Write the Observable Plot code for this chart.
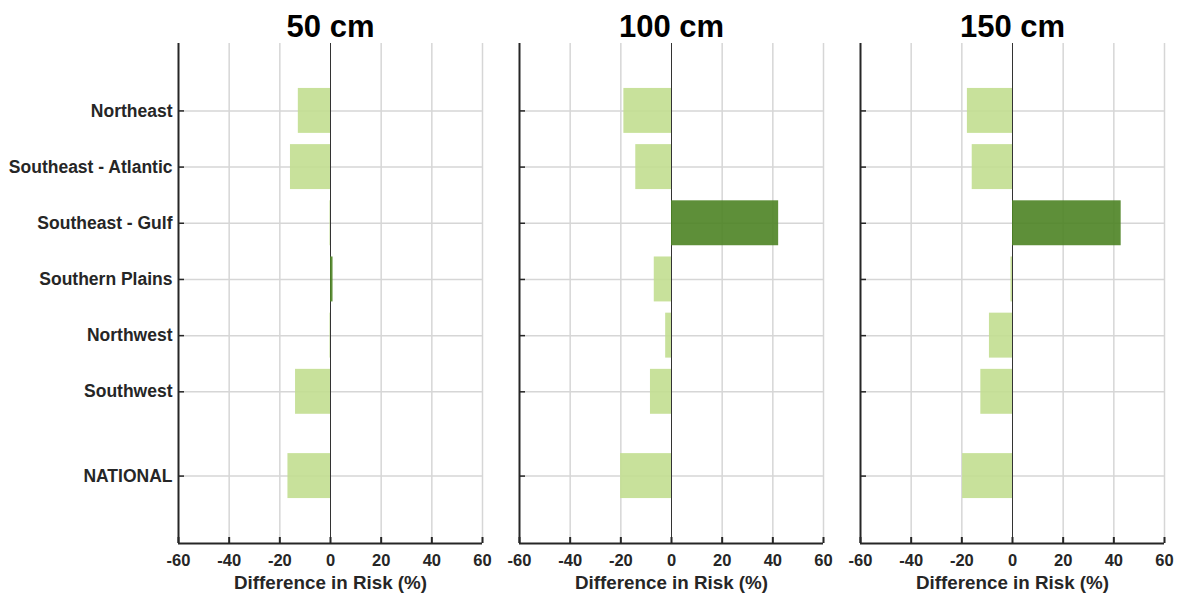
<!DOCTYPE html>
<html>
<head>
<meta charset="utf-8">
<script src="https://cdn.jsdelivr.net/npm/d3@7"></script>
<script src="https://cdn.jsdelivr.net/npm/@observablehq/plot@0.6"></script>
<style>
  html, body { margin: 0; padding: 0; background: #fff; }
</style>
</head>
<body>
<div id="chart"></div>
<script>
// ---- data ----
const regions = ["Northeast", "Southeast - Atlantic", "Southeast - Gulf", "Southern Plains", "Northwest", "Southwest", "NATIONAL"];
const scenarios = ["50 cm", "100 cm", "150 cm"];
const risk50  = [-12.7, -15.8, -0.2, 1.0, -0.2, -13.8, -16.8];
const risk100 = [-18.8, -14.1, 42.3, -6.8, -2.3, -8.3, -20.1];
const risk150 = [-17.8, -15.9, 42.9, -0.6, -9.1, -12.5, -19.7];
const xTicks = [-60, -40, -20, 0, 20, 40, 60];
const xLabel = "Difference in Risk (%)";

// ---- layout helpers ----
const series = [risk50, risk100, risk150];
// row slots; NATIONAL is set apart by an extra half slot
const slots = regions.map((r, i) => r === "NATIONAL" ? i + 1.5 : i + 1);
const xDomain = [-60, 60];
const yDomain = [-0.2, 8.7];
const halfBar = 0.4;

const data = scenarios.flatMap((s, j) =>
  regions.map((r, i) => ({scenario: s, region: r, slot: slots[i], value: series[j][i]}))
);

const ink = "#262626";
const grid = "#d6d6d6";
const darkGreen = "#4d8324";
const lightGreen = "#c2de90";
const font = "'Liberation Sans', Arial, Helvetica, sans-serif";

const chart = Plot.plot({
  width: 1179,
  height: 593,
  marginLeft: 178,
  marginRight: 15,
  marginTop: 43,
  marginBottom: 50,
  style: {fontFamily: font, background: "#fff", color: ink},
  x: {domain: xDomain},
  y: {domain: yDomain, reverse: true},
  fx: {domain: scenarios, paddingInner: 37 / 341, paddingOuter: 0},
  marks: [
    // grid
    Plot.ruleX(xTicks.filter(t => t !== xDomain[0] && t !== 0), {stroke: grid, strokeWidth: 1.5}),
    Plot.ruleY(slots, {stroke: grid, strokeWidth: 1.5}),
    // zero line
    Plot.ruleX([0], {stroke: "#333", strokeWidth: 1}),
    // bars
    Plot.rect(data, {
      fx: "scenario",
      x1: 0,
      x2: "value",
      y1: d => d.slot - halfBar,
      y2: d => d.slot + halfBar,
      fill: d => d.value > 0 ? darkGreen : lightGreen,
      fillOpacity: 0.9
    }),
    // axis lines
    Plot.ruleX([xDomain[0]], {stroke: ink, strokeWidth: 2}),
    Plot.ruleY([yDomain[1]], {stroke: ink, strokeWidth: 2}),
    // inward ticks
    Plot.tickX(xTicks, {x: d => d, insetTop: 494, stroke: ink, strokeWidth: 2}),
    Plot.tickY(slots, {y: d => d, insetRight: 298, stroke: ink, strokeWidth: 1.5}),
    // axes text
    Plot.axisX({
      ticks: xTicks,
      tickFormat: d => String(d),
      tickSize: 0,
      tickPadding: 11,
      fontSize: 16.5,
      fontWeight: "bold",
      label: null
    }),
    // x label under every panel
    Plot.text(scenarios, {
      fx: d => d,
      text: () => xLabel,
      frameAnchor: "bottom",
      lineAnchor: "bottom",
      dy: 45,
      fontSize: 18.8,
      fontWeight: "bold",
      fill: ink
    }),
    Plot.axisY({
      ticks: slots,
      tickFormat: d => regions[slots.indexOf(d)],
      tickSize: 0,
      tickPadding: 6,
      fontSize: 17.5,
      fontWeight: "bold",
      label: null
    }),
    Plot.axisFx({
      anchor: "top",
      tickSize: 0,
      tickPadding: 7,
      fontSize: 31,
      fontWeight: "bold",
      fill: "black",
      label: null
    })
  ]
});

document.getElementById("chart").appendChild(chart);
</script>
</body>
</html>
